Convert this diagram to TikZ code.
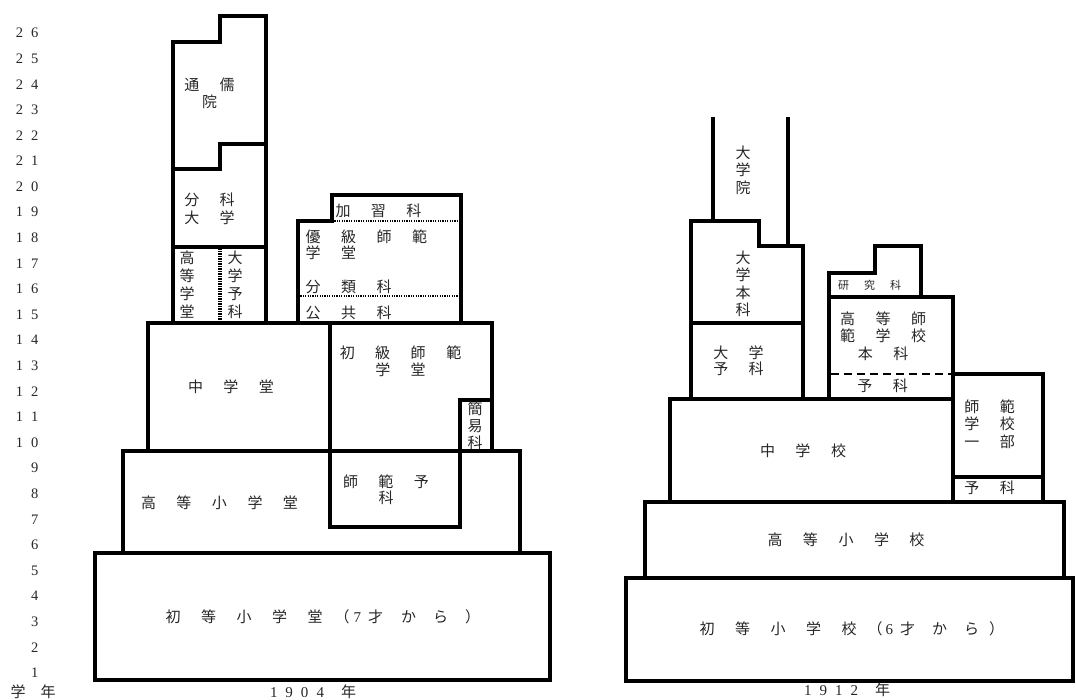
\documentclass[tikz,border=0pt]{standalone}
\usepackage{fontspec}
\setmainfont{Liberation Serif}
\newfontfamily\jp{Noto Sans CJK JP}
\newcommand\gp{\hspace{20.5pt}}
\newcommand\dgp{\hspace{8pt}}
\begin{document}
\begin{tikzpicture}[x=1pt,y=-1pt,
  bx/.style={line width=3.3pt, line cap=rect, line join=miter},
  dotl/.style={line width=2pt, dash pattern=on 1.2pt off 1.2pt},
  ladder/.style={line width=4pt, dash pattern=on 1.5pt off 1pt},
  dashl/.style={line width=2.5pt, dash pattern=on 8pt off 5pt},
  lab/.style={font=\jp\fontsize{15}{17.5}\selectfont, align=center, inner sep=0pt, text=black!85},
  small/.style={font=\jp\fontsize{11}{12}\selectfont, inner sep=0pt, text=black!85},
  num/.style={font=\fontsize{14.5}{14.5}\selectfont, inner sep=0pt, anchor=east, text=black!85},
]
\useasboundingbox (0,0) rectangle (1076,699);
% ---------- row labels ----------
\foreach \i/\t in {1/1,2/2,3/3,4/4,5/5,6/6,7/7,8/8,9/9,10/1\dgp0,11/1\dgp1,12/1\dgp2,13/1\dgp3,14/1\dgp4,15/1\dgp5,16/1\dgp6,17/1\dgp7,18/1\dgp8,19/1\dgp9,20/2\dgp0,21/2\dgp1,22/2\dgp2,23/2\dgp3,24/2\dgp4,25/2\dgp5,26/2\dgp6}
  \node[num] (row\i) at (38.5,{673-(\i-1)*25.6}) {\t};
\node[lab] (gakunen) at (33,692) {学\hspace{15pt}年};

% ---------- 1904 ----------
\draw[bx] (95,553) rectangle (550,680);
\draw[bx] (123,451) rectangle (520,553);
\draw[bx] (330,451) rectangle (460,527);
\draw[bx] (148,323) rectangle (330,451);
\draw[bx] (330,323) rectangle (492,451);
\draw[bx] (460,451) -- (460,400) -- (492,400);
\draw[bx] (173,247) rectangle (266,323);
\draw[bx] (173,247) -- (173,169) -- (220,169) -- (220,144) -- (266,144) -- (266,247);
\draw[bx] (173,169) -- (173,42) -- (220,42) -- (220,16) -- (266,16) -- (266,144);
\draw[bx] (298,323) -- (298,221) -- (332,221) -- (332,195) -- (461,195) -- (461,323);
\draw[dotl] (332,221) -- (461,221);
\draw[dotl] (298,296) -- (461,296);
\draw[ladder] (220,248) -- (220,322);

\node[lab] (tsuju) at (209.5,93.5) {通\gp{}儒\\院};
\node[lab] (bunka) at (209.5,209) {分\gp{}科\\大\gp{}学};
\node[lab, font=\jp\fontsize{15}{18}\selectfont] (kotogakudo) at (187,285) {高\\等\\学\\堂};
\node[lab, font=\jp\fontsize{15}{18}\selectfont] (daiyoka) at (235,285) {大\\学\\予\\科};
\node[lab] (kashu) at (378.5,211) {加\gp{}習\gp{}科};
\node[lab, align=left, anchor=west, font=\jp\fontsize{15}{16}\selectfont] (yukyu) at (305.5,245) {優\gp{}級\gp{}師\gp{}範\\学\gp{}堂};
\node[lab, anchor=west] (bunrui) at (305.5,287) {分\gp{}類\gp{}科};
\node[lab, anchor=west] (kokyo) at (305.5,313) {公\gp{}共\gp{}科};
\node[lab] (shokyu) at (400.5,361.5) {初\gp{}級\gp{}師\gp{}範\\学\gp{}堂};
\node[lab, font=\jp\fontsize{15}{17}\selectfont] (kan-i) at (475,426) {簡\\易\\科};
\node[lab] (chugakudo) at (231,387) {中\gp{}学\gp{}堂};
\node[lab] (kotoshogakudo) at (219.5,503) {高\gp{}等\gp{}小\gp{}学\gp{}堂};
\node[lab, font=\jp\fontsize{15}{16}\selectfont] (shihanyoka) at (386,490) {師\gp{}範\gp{}予\\科};
\node[lab, anchor=west] (shotoshogakudo) at (165.5,617) {初\gp{}等\gp{}小\gp{}学\gp{}堂\hspace{12pt}（\hspace{4pt}{\rmfamily 7}\hspace{7pt}才\hspace{18pt}か\hspace{17pt}ら\hspace{17pt}）};
\node[lab] (y1904) at (313,692) {{\rmfamily 1\dgp9\dgp0\dgp4}\hspace{17pt}年};

% ---------- 1912 ----------
\draw[bx] (626,578) rectangle (1073,681);
\draw[bx] (645,502) rectangle (1064,578);
\draw[bx] (670,399) rectangle (953,502);
\draw[bx] (953,374) rectangle (1043,502);
\draw[bx] (953,477) -- (1043,477);
\draw[bx] (691,399) -- (691,221) -- (759,221) -- (759,246) -- (803,246) -- (803,399);
\draw[bx] (691,323) -- (803,323);
\draw[bx] (713,119) -- (713,221);
\draw[bx] (788,119) -- (788,246);
\draw[bx] (829,297) rectangle (953,399);
\draw[bx] (829,297) -- (829,273) -- (875,273) -- (875,246) -- (921,246) -- (921,297);
\draw[dashl] (831,374) -- (951,374);

\node[lab] (daigakuin) at (743,170) {大\\学\\院};
\node[lab] (daigakuhonka) at (743,284) {大\\学\\本\\科};
\node[lab, font=\jp\fontsize{15}{16}\selectfont] (daigakuyoka) at (738.5,361) {大\gp{}学\\予\gp{}科};
\node[small] (kenkyuka) at (869.5,285) {研\hspace{15pt}究\hspace{15pt}科};
\node[lab] (koshi) at (883,336) {高\gp{}等\gp{}師\\範\gp{}学\gp{}校\\本\gp{}科};
\node[lab] (koshiyoka) at (882.5,386) {予\gp{}科};
\node[lab] (shihan1) at (989.5,424) {師\gp{}範\\学\gp{}校\\一\gp{}部};
\node[lab] (shihanyoka2) at (989.5,488) {予\gp{}科};
\node[lab] (chugakko) at (803,451) {中\gp{}学\gp{}校};
\node[lab] (kotoshogakko) at (846,540) {高\gp{}等\gp{}小\gp{}学\gp{}校};
\node[lab, anchor=west] (shotoshogakko) at (699.5,629) {初\gp{}等\gp{}小\gp{}学\gp{}校\hspace{11pt}（\hspace{3pt}{\rmfamily 6}\hspace{7pt}才\hspace{17pt}か\hspace{17pt}ら\hspace{10pt}）};
\node[lab] (y1912) at (847,690) {{\rmfamily 1\dgp9\dgp1\dgp2}\hspace{17pt}年};
\end{tikzpicture}
\end{document}
